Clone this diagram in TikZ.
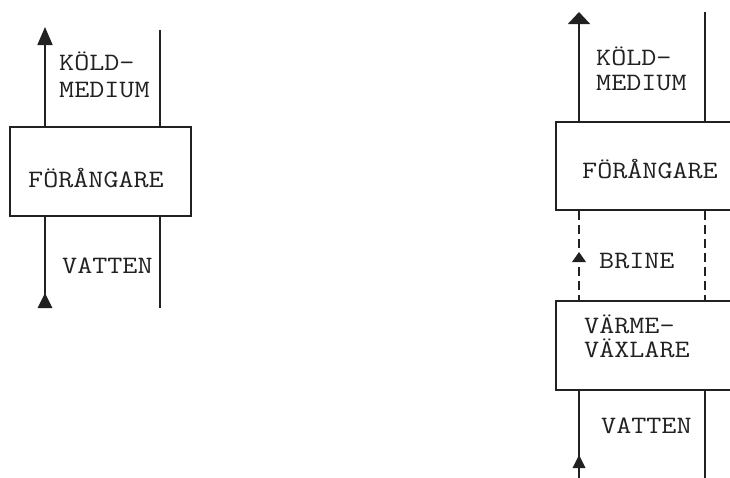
\documentclass[tikz,border=0pt]{standalone}
\usepackage{fontspec}
\newfontfamily\tw[FakeStretch=1.17]{Latin Modern Mono}
\usetikzlibrary{arrows.meta}
\definecolor{ink}{gray}{0.13}
\begin{document}
\begin{tikzpicture}[x=1pt,y=-1pt,
  box/.style={draw=ink,line width=2pt,inner sep=0pt,rectangle},
  pipe/.style={draw=ink,line width=1.8pt},
  dpipe/.style={pipe,dash pattern=on 9pt off 5pt},
  lbl/.style={anchor=base west,inner sep=0pt,text=ink,font=\tw\fontsize{25}{25}\selectfont},
  head/.style={fill=ink}]
\useasboundingbox (0,0) rectangle (730,477);
\clip (0,0) rectangle (730,477);
% ---------- left diagram ----------
\node[box,minimum width=181pt,minimum height=89pt] (evap1) at (100.5,171.5) {};
\coordinate (a1) at (45,27);
\coordinate (b1) at (160,30);
\coordinate (c1) at (45,308);
\coordinate (d1) at (160,308);
\draw[pipe,-{Triangle[length=18pt,width=15pt]}] (evap1.north -| a1) -- (a1);
\draw[pipe] (evap1.north -| b1) -- (b1);
\draw[pipe] (evap1.south -| c1) -- (c1);
\draw[pipe] (evap1.south -| d1) -- (d1);
\fill[head] (45,293) -- (37.5,308) -- (52.5,308) -- cycle;
\node[lbl] (k1) at (59,70) {KÖLD-};
\node[lbl] (m1) at (59,97) {MEDIUM};
\node[lbl] (f1) at (28,187) {FÖRÅNGARE};
\node[lbl] (v1) at (62,273) {VATTEN};
% ---------- right diagram ----------
\node[box,minimum width=189pt,minimum height=88pt] (evap2) at (650.5,166) {};
\node[box,minimum width=189pt,minimum height=89pt] (hx) at (650.5,345.5) {};
\coordinate (a2) at (579,12);
\coordinate (b2) at (705,12);
\coordinate (c2) at (579,480);
\coordinate (d2) at (705,480);
\draw[pipe,-{Triangle[length=12pt,width=22pt]}] (evap2.north -| a2) -- (a2);
\draw[pipe] (evap2.north -| b2) -- (b2);
\draw[dpipe] (evap2.south -| a2) -- (hx.north -| a2);
\draw[dpipe] (evap2.south -| b2) -- (hx.north -| b2);
\fill[head] (579,252) -- (572,262) -- (586,262) -- cycle;
\draw[pipe] (hx.south -| c2) -- (c2);
\draw[pipe] (hx.south -| d2) -- (d2);
\fill[head] (579,455) -- (572.5,468) -- (585.5,468) -- cycle;
\node[lbl] (k2) at (596,65) {KÖLD-};
\node[lbl] (m2) at (596,90) {MEDIUM};
\node[lbl] (f2) at (582,178) {FÖRÅNGARE};
\node[lbl] (br) at (599,268) {BRINE};
\node[lbl] (vm) at (584,333) {VÄRME-};
\node[lbl] (vx) at (584,357) {VÄXLARE};
\node[lbl] (v2) at (601,433) {VATTEN};
\end{tikzpicture}
\end{document}
